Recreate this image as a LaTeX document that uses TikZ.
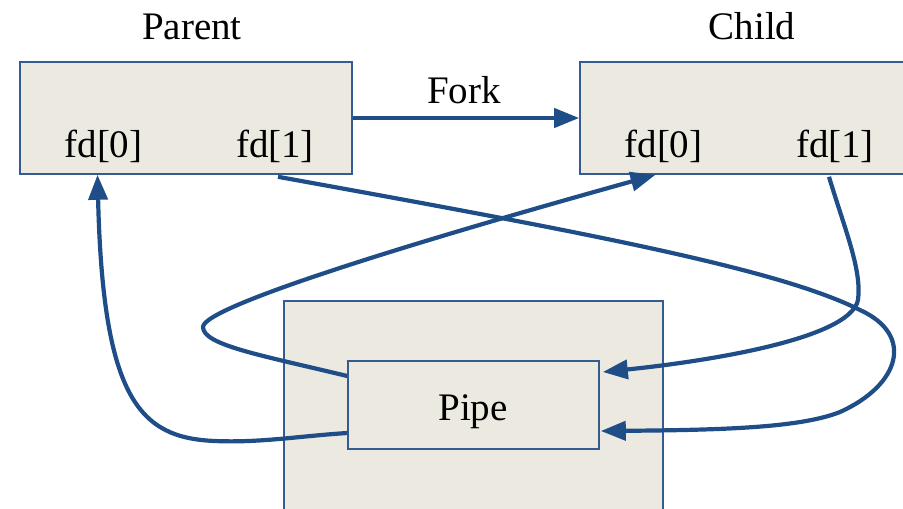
\documentclass[tikz,border=0pt]{standalone}
\usepackage{fontspec}
\setmainfont{Liberation Serif}
\usetikzlibrary{arrows.meta,calc}
\definecolor{linkblue}{RGB}{31,77,135}
\definecolor{boxedge}{RGB}{52,92,145}
\definecolor{boxfill}{RGB}{236,233,224}
\begin{document}
\begin{tikzpicture}[x=1pt,y=-1pt,
  font=\fontsize{39}{47}\selectfont,
  panel/.style={draw=boxedge, fill=boxfill, line width=1.6pt, inner sep=0pt},
  txt/.style={inner sep=0pt, anchor=base},
  link/.style={draw=linkblue, line width=4.2pt, -{Triangle[length=25pt,width=19pt]}}]
\useasboundingbox (0,0) rectangle (903,509);
\clip (0,0) rectangle (903,509);

% process boxes and the kernel area holding the pipe
\node[panel, minimum width=332pt, minimum height=112pt] (parent) at (186,118) {};
\node[panel, minimum width=332pt, minimum height=112pt] (child) at (746,118) {};
\node[panel, minimum width=379pt, minimum height=230pt] (kernel) at (473.5,416) {};
\node[panel, minimum width=251pt, minimum height=88pt] (pipe) at (473.5,405) {};

% texts
\node[txt] (ptitle) at (192,39) {Parent};
\node[txt] (ctitle) at (752,39) {Child};
\node[txt] (forklbl) at (464,103) {Fork};
\node[txt] (pfd0) at (103.5,157) {fd[0]};
\node[txt] (pfd1) at (275,157) {fd[1]};
\node[txt] (cfd0) at (663.5,157) {fd[0]};
\node[txt] (cfd1) at (835,157) {fd[1]};
\node[txt] (pipetxt) at (473,420) {Pipe};

% attachment points of the descriptors
\path (pfd0 |- parent.south) ++(-6,0) coordinate (pIn);
\path (pfd1 |- parent.south) ++(3,2) coordinate (pOut);
\path (cfd0 |- child.south) ++(-8,0) coordinate (cIn);
\path (cfd1 |- child.south) ++(-6,2) coordinate (cOut);
\path (pipe.west) ++(0,28) coordinate (readP);
\path (pipe.west) ++(0,-29) coordinate (readC);
\path (pipe.east) ++(1,26) coordinate (writeP);
\path (pipe.east) ++(3,-33) coordinate (writeC);

% fork
\draw[link] (parent.east) -- (child.west);

% pipe read end -> parent fd[0]
\draw[link] (readP) .. controls (300,436) and (260,443) .. (215,441)
  .. controls (140,438) and (103,400) .. (pIn);

% parent fd[1] -> pipe write end
\draw[link] (pOut) .. controls (600,235) and (780,270) .. (860,310)
  .. controls (915,335) and (900,385) .. (840,412)
  .. controls (800,428) and (720,430) .. (writeP);

% pipe read end -> child fd[0]
\draw[link] (readC) .. controls (260,355) and (203,345) .. (203,327)
  .. controls (203,305) and (450,232) .. (cIn);

% child fd[1] -> pipe write end
\draw[link] (cOut) .. controls (845,230) and (862,270) .. (858,300)
  .. controls (850,340) and (700,362) .. (writeC);
\end{tikzpicture}
\end{document}
